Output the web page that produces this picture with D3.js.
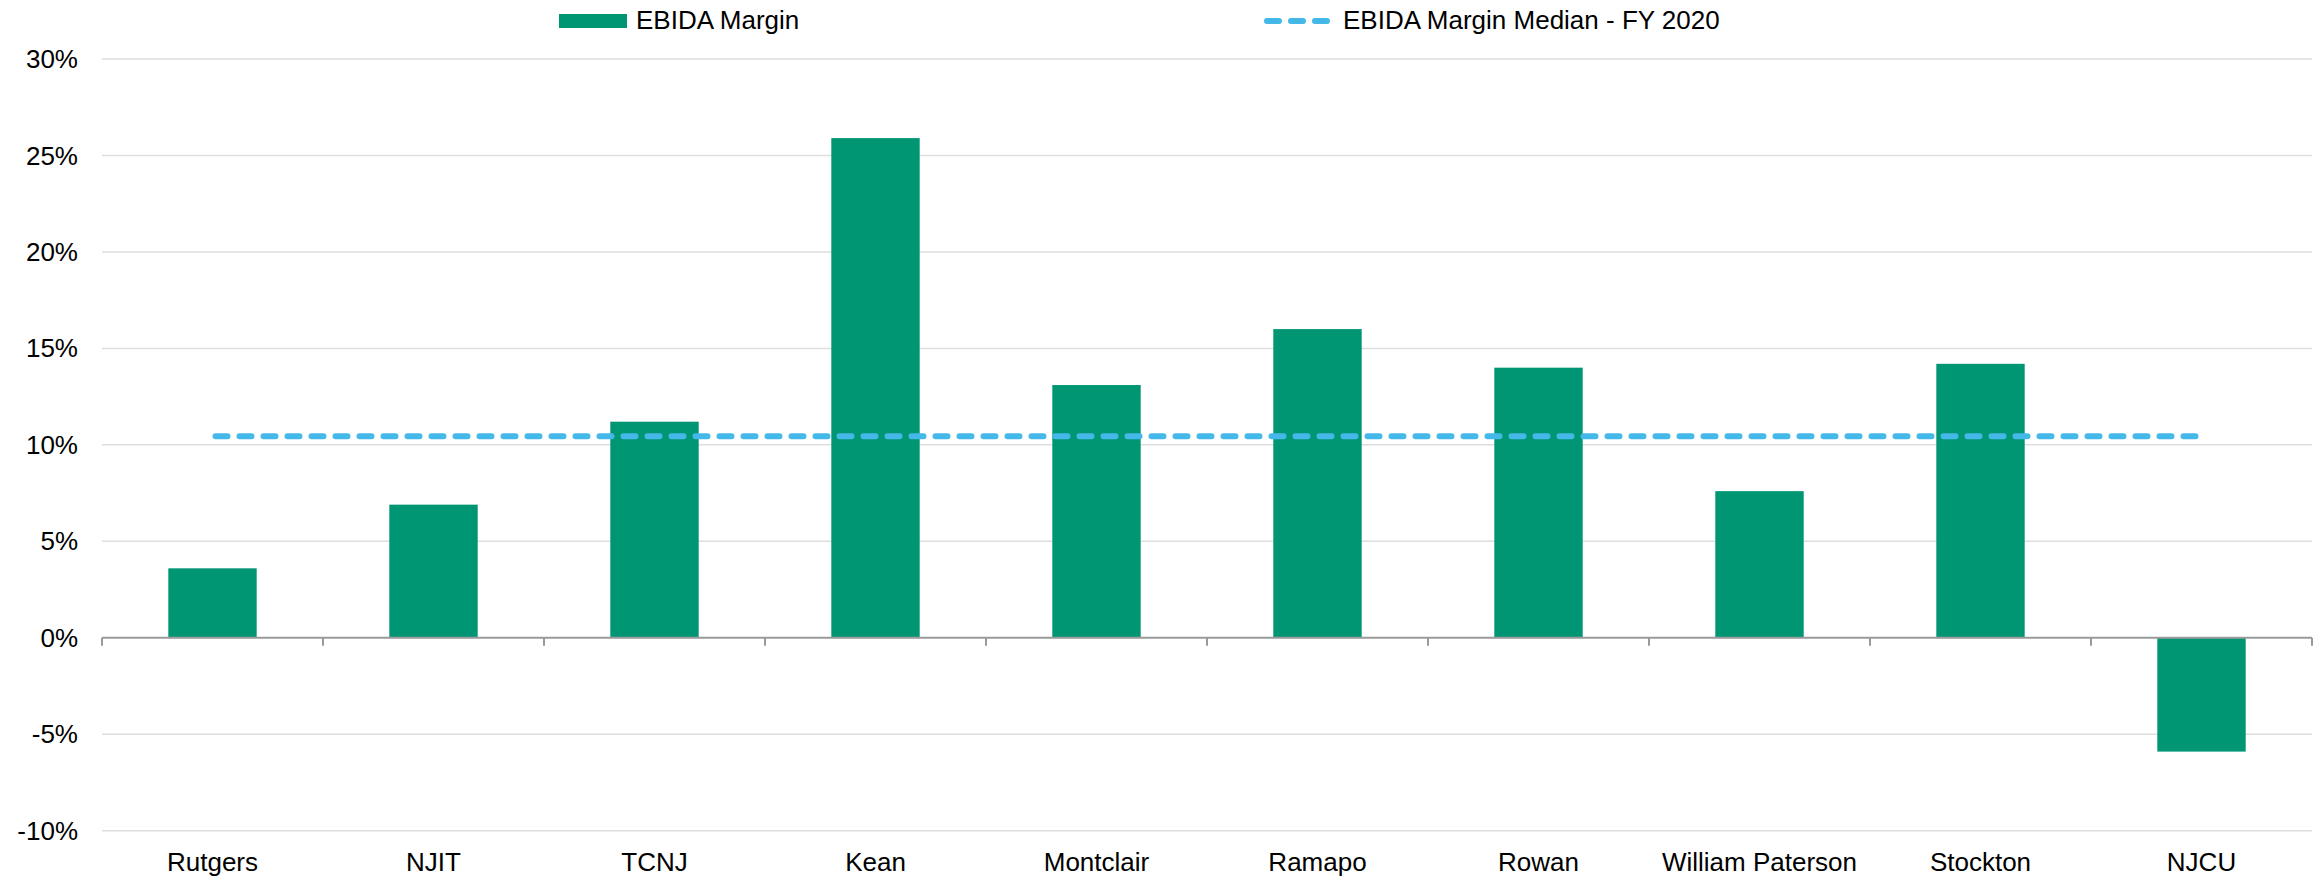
<!DOCTYPE html>
<html>
<head>
<meta charset="utf-8">
<script src="https://cdn.jsdelivr.net/npm/d3@7"></script>
<style>
  body { margin: 0; background: #fff; }
  text { font-family: "Liberation Sans", Arial, sans-serif; fill: #000; }
</style>
</head>
<body>
<svg id="chart"></svg>
<script>
// EBIDA margin by school, FY 2020 (percent)
const schools = ["Rutgers", "NJIT", "TCNJ", "Kean", "Montclair", "Ramapo", "Rowan", "William Paterson", "Stockton", "NJCU"];
const margins = [3.6, 6.9, 11.2, 25.9, 13.1, 16.0, 14.0, 7.6, 14.2, -5.9];
const medianValue = 10.45;
const yTicks = [-10, -5, 0, 5, 10, 15, 20, 25, 30];

const width = 2323, height = 877;
const green = "#009673", blue = "#45b8ea";

const svg = d3.select("#chart")
    .attr("width", width)
    .attr("height", height);

const x = d3.scaleBand()
    .domain(schools)
    .range([102, 2312])
    .paddingInner(0.6)
    .paddingOuter(0.3);

const y = d3.scaleLinear()
    .domain([-10, 30])
    .range([830.7, 59]);

// gridlines
svg.append("g")
    .selectAll("line")
    .data(yTicks.filter(d => d !== 0))
    .enter().append("line")
    .attr("x1", 102)
    .attr("x2", 2312)
    .attr("y1", d => y(d))
    .attr("y2", d => y(d))
    .style("stroke", "#dedede")
    .style("stroke-width", 1.5);

// y tick labels
svg.append("g")
    .selectAll("text")
    .data(yTicks)
    .enter().append("text")
    .attr("x", 78)
    .attr("y", d => y(d))
    .attr("dy", "0.35em")
    .attr("text-anchor", "end")
    .style("font-size", "26px")
    .text(d => d + "%");

// bars
svg.append("g")
    .selectAll("rect")
    .data(schools)
    .enter().append("rect")
    .attr("x", d => x(d))
    .attr("width", x.bandwidth())
    .attr("y", (d, i) => y(Math.max(0, margins[i])))
    .attr("height", (d, i) => Math.abs(y(margins[i]) - y(0)))
    .attr("fill", green);

// zero axis with category ticks
const axisG = svg.append("g");
axisG.append("line")
    .attr("x1", 102)
    .attr("x2", 2312)
    .attr("y1", y(0))
    .attr("y2", y(0))
    .style("stroke", "#9a9a9a")
    .style("stroke-width", 2);

const tickPos = schools.map(d => x(d) - x.step() * 0.3).concat([2312]);
axisG.selectAll(".tick")
    .data(tickPos)
    .enter().append("line")
    .attr("class", "tick")
    .attr("x1", d => d)
    .attr("x2", d => d)
    .attr("y1", y(0))
    .attr("y2", y(0) + 8)
    .style("stroke", "#9a9a9a")
    .style("stroke-width", 2);

// category labels
svg.append("g")
    .selectAll("text")
    .data(schools)
    .enter().append("text")
    .attr("x", d => x(d) + x.bandwidth() / 2)
    .attr("y", 871)
    .attr("text-anchor", "middle")
    .style("font-size", "26px")
    .text(d => d);

// median line
const first = schools[0], last = schools[schools.length - 1];
svg.append("line")
    .attr("x1", x(first) + x.bandwidth() / 2 + 3)
    .attr("x2", x(last) + x.bandwidth() / 2 - 3)
    .attr("y1", y(medianValue))
    .attr("y2", y(medianValue))
    .style("stroke", blue)
    .style("stroke-width", 6)
    .style("stroke-dasharray", "12,12")
    .style("stroke-linecap", "round");

// legend
const legend = svg.append("g");
legend.append("rect")
    .attr("x", 559)
    .attr("y", 14)
    .attr("width", 68)
    .attr("height", 14)
    .attr("fill", green);
legend.append("text")
    .attr("x", 636)
    .attr("y", 29)
    .style("font-size", "26px")
    .text("EBIDA Margin");

legend.append("line")
    .attr("x1", 1267)
    .attr("x2", 1327)
    .attr("y1", 21)
    .attr("y2", 21)
    .style("stroke", blue)
    .style("stroke-width", 6)
    .style("stroke-dasharray", "12,12")
    .style("stroke-linecap", "round");
legend.append("text")
    .attr("x", 1343)
    .attr("y", 29)
    .style("font-size", "26px")
    .text("EBIDA Margin Median - FY 2020");
</script>
</body>
</html>
